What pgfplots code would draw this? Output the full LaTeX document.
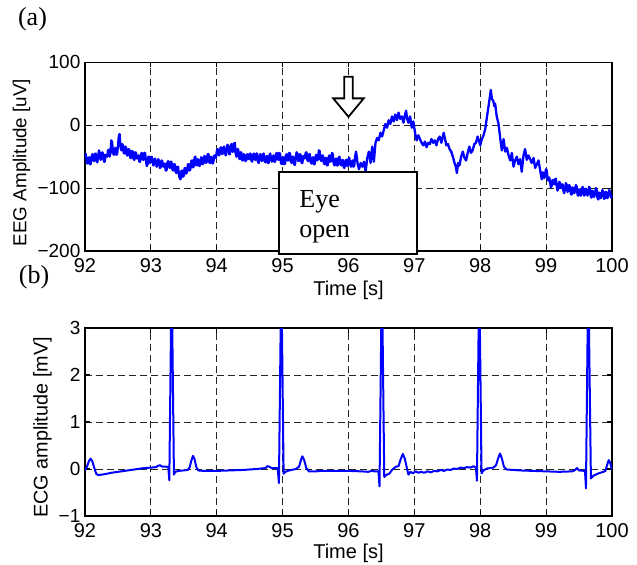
\documentclass[border=0pt]{standalone}
\usepackage{fontspec}
\setmainfont{Liberation Sans}
\newfontfamily\seriffont{Liberation Serif}
\usepackage{pgfplots}
\pgfplotsset{compat=1.18}
\definecolor{mblue}{RGB}{0,0,255}
\pgfplotsset{
  mystyle/.style={
    scale only axis, width=263.5pt,
    xmin=92, xmax=100,
    xtick={92,93,94,95,96,97,98,99,100},
    grid=major,
    major grid style={black!85, line width=0.45pt, dash pattern=on 3.5pt off 2pt},
    axis line style={black, line width=0.8pt},
    tick style={black, line width=0.6pt},
    major tick length=2.5pt,
    tick align=inside,
    /pgf/number format/assume math mode=true,
    xticklabel style={font=\fontsize{10}{12}\selectfont},
    yticklabel style={font=\fontsize{9.5}{11}\selectfont, xshift=1.2pt},
    label style={font=\fontsize{10}{12}\selectfont},
  }
}
\begin{document}
\begin{tikzpicture}
\useasboundingbox (0,0) rectangle (318.5pt,-282pt);
\node[font=\seriffont\fontsize{13}{15}\selectfont] at (16.25pt,-9.75pt) {(a)};
\node[font=\seriffont\fontsize{13}{15}\selectfont] at (17pt,-138.75pt) {(b)};
\begin{axis}[mystyle,
  at={(42.5pt,-125.5pt)}, anchor=south west,
  height=94.35pt,
  ymin=-200, ymax=100,
  ytick={-200,-100,0,100},
  yticklabels={−200,−100,0,100},
  clip=false,
  xlabel={Time [s]},
  ylabel={EEG Amplitude [uV]},
  xlabel style={at={(axis description cs:0.5,-0.209)}, anchor=center},
  ylabel style={at={(axis description cs:-0.1207,0.469)}, anchor=center, font=\fontsize{9.4}{11}\selectfont},
]
\addplot[mblue, line width=1.15pt, line join=round] table {
x y
92.000 -47
92.0125 -46
92.025 -58
92.0375 -61
92.050 -52
92.0625 -51
92.075 -62
92.0875 -62
92.100 -50
92.1125 -46
92.125 -55
92.1375 -57
92.150 -46
92.1625 -45
92.175 -57
92.1875 -59
92.200 -49
92.2125 -40
92.225 -44
92.2375 -55
92.250 -53
92.2625 -43
92.275 -46
92.2875 -58
92.300 -58
92.3125 -47
92.325 -48
92.3375 -50
92.350 -40
92.3625 -39
92.375 -50
92.3875 -43
92.400 -24
92.4125 -28
92.425 -44
92.4375 -47
92.450 -38
92.4625 -36
92.475 -47
92.4875 -46
92.500 -33
92.5125 -18
92.525 -14
92.5375 -33
92.550 -40
92.5625 -30
92.575 -32
92.5875 -44
92.600 -45
92.6125 -34
92.625 -36
92.6375 -48
92.650 -48
92.6625 -38
92.675 -40
92.6875 -52
92.700 -52
92.7125 -41
92.725 -42
92.7375 -54
92.750 -55
92.7625 -43
92.775 -44
92.7875 -53
92.800 -50
92.8125 -48
92.825 -58
92.8375 -58
92.850 -46
92.8625 -44
92.875 -54
92.8875 -55
92.900 -44
92.9125 -44
92.925 -56
92.9375 -65
92.950 -62
92.9625 -50
92.975 -50
92.9875 -60
93.000 -58
93.0125 -50
93.025 -55
93.0375 -64
93.050 -62
93.0625 -53
93.075 -57
93.0875 -66
93.100 -63
93.1125 -54
93.125 -58
93.1375 -68
93.150 -66
93.1625 -56
93.175 -58
93.1875 -66
93.200 -62
93.2125 -61
93.225 -72
93.2375 -72
93.250 -60
93.2625 -57
93.275 -66
93.2875 -68
93.300 -58
93.3125 -58
93.325 -70
93.3375 -72
93.350 -62
93.3625 -62
93.375 -74
93.3875 -76
93.400 -66
93.4125 -66
93.425 -78
93.4375 -84
93.450 -86
93.4625 -73
93.475 -72
93.4875 -82
93.500 -80
93.5125 -68
93.525 -68
93.5375 -77
93.550 -74
93.5625 -62
93.575 -62
93.5875 -72
93.600 -70
93.6125 -57
93.625 -56
93.6375 -67
93.650 -66
93.6625 -52
93.675 -50
93.6875 -63
93.700 -64
93.7125 -54
93.725 -56
93.7375 -65
93.750 -62
93.7625 -51
93.775 -52
93.7875 -62
93.800 -60
93.8125 -49
93.825 -50
93.8375 -60
93.850 -58
93.8625 -46
93.875 -46
93.8875 -59
93.900 -60
93.9125 -50
93.925 -52
93.9375 -61
93.950 -58
93.9625 -48
93.975 -50
93.9875 -52
94.000 -42
94.0125 -38
94.025 -46
94.0375 -48
94.050 -38
94.0625 -35
94.075 -45
94.0875 -46
94.100 -36
94.1125 -34
94.125 -44
94.1375 -48
94.150 -40
94.1625 -31
94.175 -34
94.1875 -46
94.200 -46
94.2125 -32
94.225 -30
94.2375 -42
94.250 -42
94.2625 -29
94.275 -28
94.2875 -45
94.300 -50
94.3125 -38
94.325 -38
94.3375 -52
94.350 -54
94.3625 -43
94.375 -44
94.3875 -56
94.400 -56
94.4125 -46
94.425 -48
94.4375 -57
94.450 -55
94.4625 -46
94.475 -50
94.4875 -54
94.500 -46
94.5125 -45
94.525 -56
94.5375 -58
94.550 -48
94.5625 -45
94.575 -54
94.5875 -55
94.600 -45
94.6125 -45
94.625 -58
94.6375 -60
94.650 -50
94.6625 -46
94.675 -55
94.6875 -57
94.700 -47
94.7125 -45
94.725 -56
94.7375 -59
94.750 -50
94.7625 -49
94.775 -60
94.7875 -60
94.800 -48
94.8125 -45
94.825 -55
94.8375 -58
94.850 -50
94.8625 -48
94.875 -58
94.8875 -58
94.900 -46
94.9125 -44
94.925 -54
94.9375 -55
94.950 -44
94.9625 -46
94.975 -60
94.9875 -62
95.000 -52
95.0125 -51
95.025 -62
95.0375 -61
95.050 -48
95.0625 -46
95.075 -56
95.0875 -56
95.100 -44
95.1125 -45
95.125 -58
95.1375 -60
95.150 -50
95.1625 -50
95.175 -62
95.1875 -63
95.200 -52
95.2125 -43
95.225 -46
95.2375 -57
95.250 -56
95.2625 -46
95.275 -48
95.2875 -60
95.300 -60
95.3125 -49
95.325 -50
95.3375 -53
95.350 -44
95.3625 -43
95.375 -55
95.3875 -57
95.400 -47
95.4125 -46
95.425 -58
95.4375 -61
95.450 -52
95.4625 -51
95.475 -62
95.4875 -62
95.500 -50
95.5125 -47
95.525 -56
95.5375 -54
95.550 -40
95.5625 -41
95.575 -54
95.5875 -57
95.600 -48
95.6125 -48
95.625 -60
95.6375 -62
95.650 -52
95.6625 -52
95.675 -64
95.6875 -63
95.700 -50
95.7125 -48
95.725 -58
95.7375 -57
95.750 -44
95.7625 -46
95.775 -60
95.7875 -64
95.800 -55
95.8125 -53
95.825 -64
95.8375 -64
95.850 -52
95.8625 -50
95.875 -60
95.8875 -64
95.900 -56
95.9125 -55
95.925 -66
95.9375 -68
95.950 -58
95.9625 -55
95.975 -64
95.9875 -65
96.000 -54
96.0125 -52
96.025 -62
96.0375 -66
96.050 -58
96.0625 -56
96.075 -66
96.0875 -64
96.100 -50
96.115 -42
96.140 -62
96.160 -70
96.185 -60
96.210 -66
96.235 -58
96.260 -74
96.285 -52
96.310 -42
96.335 -60
96.360 -34
96.385 -58
96.410 -28
96.435 -20
96.460 -24
96.485 -12
96.510 -18
96.535 -8
96.560 2
96.585 -4
96.610 8
96.635 2
96.660 14
96.685 6
96.710 17
96.735 8
96.760 20
96.785 10
96.810 14
96.835 4
96.860 18
96.875 23
96.890 10
96.910 4
96.935 14
96.960 -4
96.985 6
97.010 -12
97.035 -24
97.060 -16
97.085 -22
97.110 -28
97.135 -32
97.160 -26
97.185 -35
97.210 -28
97.235 -30
97.260 -22
97.285 -28
97.310 -24
97.335 -32
97.360 -22
97.385 -18
97.410 -28
97.445 -12
97.470 -24
97.485 -32
97.510 -30
97.535 -38
97.560 -42
97.585 -50
97.610 -60
97.630 -66
97.645 -76
97.665 -60
97.685 -64
97.710 -50
97.735 -42
97.760 -52
97.785 -56
97.810 -44
97.835 -34
97.860 -44
97.885 -40
97.910 -30
97.935 -28
97.960 -18
97.985 -26
98.000 -32
98.025 -22
98.050 -16
98.076 -6
98.100 12
98.126 30
98.145 44
98.160 56
98.177 42
98.200 38
98.215 30
98.227 34
98.250 14
98.278 2
98.300 -18
98.315 -30
98.328 -40
98.354 -22
98.380 -42
98.405 -36
98.430 -48
98.455 -56
98.480 -44
98.505 -66
98.530 -56
98.556 -50
98.580 -62
98.606 -54
98.630 -74
98.657 -48
98.680 -38
98.707 -55
98.730 -48
98.758 -54
98.780 -60
98.810 -52
98.833 -68
98.860 -62
98.884 -56
98.910 -72
98.934 -86
98.947 -75
98.960 -76
98.972 -84
98.985 -80
98.997 -70
99.010 -72
99.022 -86
99.035 -88
99.047 -83
99.060 -90
99.073 -99
99.086 -96
99.098 -87
99.110 -90
99.123 -94
99.136 -86
99.148 -85
99.160 -96
99.173 -104
99.187 -100
99.200 -90
99.212 -92
99.225 -100
99.237 -96
99.250 -94
99.262 -104
99.275 -108
99.288 -100
99.300 -92
99.313 -95
99.325 -106
99.338 -104
99.350 -95
99.363 -98
99.377 -110
99.390 -110
99.402 -99
99.415 -100
99.428 -108
99.440 -104
99.452 -95
99.465 -98
99.478 -111
99.490 -112
99.502 -102
99.515 -104
99.528 -112
99.540 -108
99.552 -98
99.565 -101
99.578 -112
99.590 -110
99.602 -101
99.615 -104
99.628 -112
99.640 -108
99.652 -98
99.665 -100
99.678 -114
99.690 -115
99.702 -104
99.715 -106
99.728 -114
99.742 -110
99.755 -100
99.767 -103
99.780 -116
99.793 -118
99.805 -107
99.818 -108
99.830 -116
99.843 -112
99.855 -103
99.868 -106
99.881 -117
99.894 -116
99.906 -106
99.919 -108
99.931 -116
99.944 -112
99.957 -103
99.970 -106
99.985 -115
100.000 -112
};
\draw[black, line width=1pt, fill=white] (axis cs:94.945,-74.7) rectangle (axis cs:97.04,-205.3);
\node[anchor=base west, inner sep=0pt, font=\seriffont\fontsize{13}{15}\selectfont] at (axis cs:95.249,-130.4) {Eye};
\node[anchor=base west, inner sep=0pt, font=\seriffont\fontsize{13}{15}\selectfont] at (axis cs:95.249,-178.2) {open};
\draw[black, line width=0.9pt, fill=white, line join=miter] (axis cs:95.935,77.1) -- (axis cs:96.065,77.1) -- (axis cs:96.065,42.7) -- (axis cs:96.232,42.7) -- (axis cs:96,13.4) -- (axis cs:95.768,42.7) -- (axis cs:95.935,42.7) -- cycle;
\end{axis}
\begin{axis}[mystyle,
  at={(42.5pt,-258pt)}, anchor=south west,
  height=94pt,
  ymin=-1, ymax=3,
  ytick={-1,0,1,2,3},
  yticklabels={−1,0,1,2,3},
  xlabel={Time [s]},
  ylabel={ECG amplitude [mV]},
  xlabel style={at={(axis description cs:0.5,-0.1995)}, anchor=center},
  ylabel style={at={(axis description cs:-0.0806,0.471)}, anchor=center, font=\fontsize{9.9}{11}\selectfont},
]
\addplot[mblue, line width=1.0pt, line join=round] table {
x y
92.000 -0.03
92.030 0.05
92.060 0.17
92.085 0.22
92.110 0.17
92.140 0.03
92.170 -0.10
92.200 -0.13
92.300 -0.11
92.400 -0.08
92.500 -0.06
92.600 -0.04
92.700 -0.02
92.800 0.00
92.900 0.02
93.000 0.03
93.080 0.04
93.110 0.07
93.140 0.08
93.170 0.05
93.230 0.05
93.265 0.04
93.280 -0.24
93.315 4.2
93.350 -0.12
93.370 -0.06
93.420 -0.04
93.500 -0.03
93.560 -0.02
93.590 0.04
93.615 0.18
93.640 0.28
93.665 0.20
93.690 0.04
93.720 -0.03
93.800 -0.04
94.000 -0.04
94.200 -0.03
94.400 -0.02
94.600 0.00
94.740 0.02
94.770 0.06
94.800 0.05
94.830 0.02
94.925 0.02
94.944 -0.30
94.980 4.2
95.015 -0.10
95.040 -0.06
95.100 -0.03
95.200 0.00
95.250 0.05
95.280 0.20
95.300 0.27
95.325 0.20
95.360 0.02
95.400 -0.05
95.500 -0.05
95.600 -0.04
95.800 -0.04
96.000 -0.04
96.200 -0.05
96.300 -0.06
96.350 -0.04
96.400 -0.05
96.455 -0.05
96.471 -0.37
96.507 4.2
96.543 -0.17
96.580 -0.12
96.620 -0.10
96.660 -0.02
96.720 0.05
96.760 0.06
96.790 0.20
96.825 0.32
96.855 0.22
96.890 0.00
96.910 -0.12
96.940 -0.06
96.980 -0.09
97.020 -0.05
97.060 -0.08
97.100 -0.06
97.150 -0.08
97.200 -0.05
97.250 -0.07
97.300 -0.04
97.350 -0.05
97.400 -0.02
97.450 -0.04
97.500 -0.01
97.550 -0.02
97.600 0.01
97.650 0.00
97.700 0.03
97.750 0.02
97.800 0.04
97.850 0.03
97.900 0.06
97.935 0.03
97.950 -0.25
97.985 4.2
98.020 -0.09
98.050 -0.03
98.100 0.01
98.200 0.03
98.240 0.08
98.270 0.22
98.300 0.33
98.325 0.24
98.360 0.05
98.400 -0.01
98.500 -0.02
98.600 -0.03
98.800 -0.04
99.000 -0.05
99.200 -0.06
99.400 -0.05
99.440 -0.02
99.470 0.02
99.500 -0.03
99.590 -0.04
99.605 -0.41
99.640 4.2
99.680 -0.20
99.720 -0.14
99.800 -0.09
99.870 -0.06
99.900 -0.04
99.925 0.08
99.950 0.19
99.970 0.14
100.000 -0.01
};
\end{axis}
\end{tikzpicture}
\end{document}
